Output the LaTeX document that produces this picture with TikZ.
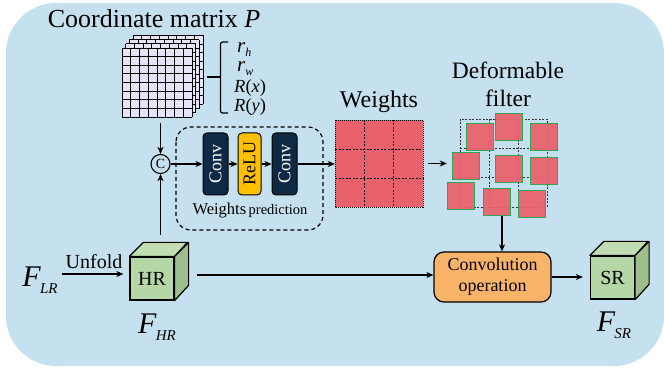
\documentclass[tikz,border=0pt]{standalone}
\usepackage{fontspec}
\setmainfont{Liberation Serif}
\usetikzlibrary{arrows.meta}
\definecolor{bgblue}{RGB}{197,224,238}
\definecolor{gridfill}{RGB}{232,228,247}
\definecolor{navy}{RGB}{14,41,68}
\definecolor{gold}{RGB}{255,192,0}
\definecolor{wred}{RGB}{233,97,106}
\definecolor{sqgreen}{RGB}{50,165,85}
\definecolor{orangebox}{RGB}{250,180,106}
\definecolor{cubefront}{RGB}{181,215,166}
\definecolor{cubetop}{RGB}{192,222,178}
\definecolor{cubeside}{RGB}{155,190,140}
\newcommand{\Fsub}[1]{{\fontsize{30}{30}\selectfont\textit{F}}\kern-1pt\raisebox{-7pt}{\fontsize{15}{16}\selectfont\textit{#1}}}
\newcommand{\rsub}[1]{{\fontsize{21}{21}\selectfont\textit{r}}\raisebox{-4pt}[0pt][0pt]{\fontsize{12}{12}\selectfont\textit{#1}}}
\tikzset{
  arr/.style={-{Stealth[length=7pt,width=6pt,inset=2pt]}, line width=1.2pt},
  convbox/.style={draw=black, line width=1pt, fill=navy, rounded corners=4pt, rotate=90,
    minimum width=62pt, minimum height=25pt, inner sep=0pt, text=white,
    font=\fontsize{18}{18}\selectfont},
  relubox/.style={convbox, fill=gold, text=black, minimum height=23pt},
  cubeface/.style={draw=black, line width=1.2pt, fill=cubefront, minimum width=44pt,
    minimum height=43pt, inner sep=0pt, font=\fontsize{20}{20}\selectfont},
  cubelines/.style={draw=black, line width=1.2pt, line join=round},
  sq/.style={fill=wred, fill opacity=0.93, draw=sqgreen, line width=1pt, draw opacity=1},
  ghost/.style={inner sep=0pt, draw=none},
}
\begin{document}
\begin{tikzpicture}[x=1pt,y=-1pt]
\useasboundingbox (0,0) rectangle (664,371);
\fill[bgblue, rounded corners=50pt] (6,3) rectangle (664,366);

% title
\node[font=\fontsize{26}{28}\selectfont] (title) at (154,19) {Coordinate matrix \textit{P}};

% coordinate matrix stack
\foreach \k in {3,2,1,0} {
  \begin{scope}[shift={(3.7*\k,-4.2*\k)}]
    \fill[gridfill] (122,48) rectangle (192,117);
    \foreach \i in {0,...,8} {
      \draw[line width=0.95pt] (122+8.75*\i,48) -- (122+8.75*\i,117);
      \draw[line width=0.95pt] (122,48+8.625*\i) -- (192,48+8.625*\i);
    }
  \end{scope}
}
\node[ghost, minimum width=81pt, minimum height=81pt] (mat) at (162.5,77) {};

% brace
\draw[line width=1.2pt, rounded corners=2pt] (228,42) -- (220.5,42) -- (220.5,113) -- (228,113);
\draw[line width=1.2pt] (207,77) -- (220.5,77);
\node[anchor=west, inner sep=0pt] (rh) at (237,48) {\rsub{h}};
\node[anchor=west, inner sep=0pt] (rw) at (237,67) {\rsub{w}};
\node[anchor=west, inner sep=0pt, font=\fontsize{18.5}{19}\selectfont] (rx) at (234,88) {\textit{R}(\textit{x})};
\node[anchor=west, inner sep=0pt, font=\fontsize{18.5}{19}\selectfont] (ry) at (234,107) {\textit{R}(\textit{y})};

% concat circle
\node[circle, draw=black, line width=1.1pt, minimum size=19pt, inner sep=0pt,
  font=\fontsize{14}{14}\selectfont] (cat) at (160.5,164) {C};

% weights prediction
\draw[line width=1.2pt, dash pattern=on 4pt off 3pt, rounded corners=15pt] (176,127) rectangle (323,230);
\node[convbox] (c1) at (215.5,164) {Conv};
\node[relubox] (relu) at (249.5,164) {ReLU};
\node[convbox] (c2) at (284.5,164) {Conv};
\node (wplabel) at (250,211) {{\fontsize{16.5}{18}\selectfont Weights} {\fontsize{14.5}{16}\selectfont prediction}};

% weights grid
\node[font=\fontsize{24}{26}\selectfont] (wtitle) at (379,102) {Weights};
\fill[wred] (335,120) rectangle (423,207);
\foreach \i in {1,2} {
  \draw[line width=0.8pt, dash pattern=on 2pt off 1.5pt] (335+29.33*\i,120) -- (335+29.33*\i,207);
  \draw[line width=0.8pt, dash pattern=on 2pt off 1.5pt] (335,120+29*\i) -- (423,120+29*\i);
}
\draw[line width=0.6pt, dash pattern=on 1pt off 1pt] (335,120) rectangle (423,207);
\node[ghost, minimum width=88pt, minimum height=87pt] (wgt) at (379,163.5) {};

% deformable filter
\node[font=\fontsize{23.5}{28}\selectfont, align=center] (dtitle) at (508,84) {Deformable\\filter};
\draw[line width=0.8pt, dash pattern=on 2pt off 1.5pt, black!80] (460,119) rectangle (547,207);
\foreach \i in {1,2} {
  \draw[line width=0.8pt, dash pattern=on 2pt off 1.5pt, black!80] (460+29*\i,119) -- (460+29*\i,207);
  \draw[line width=0.8pt, dash pattern=on 2pt off 1.5pt, black!80] (460,119+29.33*\i) -- (547,119+29.33*\i);
}
\foreach \x/\y in {466/124, 495/114, 530/124, 452/153, 495/156, 530/158, 447/183, 483/189, 518/191} {
  \draw[sq] (\x,\y) rectangle ++(27,27);
}
\node[ghost, minimum width=110pt, minimum height=104pt] (def) at (502,166) {};

% convolution operation
\node[draw=black, line width=1.2pt, fill=orangebox, rounded corners=10pt, minimum width=117pt,
  minimum height=50pt, align=center, font=\fontsize{18}{21}\selectfont] (cop) at (492.5,277) {Convolution\\operation};

% HR cube
\node[cubeface] (hr) at (152,278.5) {HR};
\draw[cubelines, fill=cubetop] (hr.north west) -- ++(14,-14) -- ++(44,0) -- (hr.north east) -- cycle;
\draw[cubelines, fill=cubeside] (hr.north east) -- ++(14,-14) -- ++(0,43) -- (hr.south east) -- cycle;
\node (fhr) at (157,327) {\Fsub{HR}};

% SR cube
\node[cubeface] (sr) at (612.5,277.5) {SR};
\draw[cubelines, fill=cubetop] (sr.north west) -- ++(14,-14) -- ++(44,0) -- (sr.north east) -- cycle;
\draw[cubelines, fill=cubeside] (sr.north east) -- ++(14,-14) -- ++(0,43) -- (sr.south east) -- cycle;
\node (fsr) at (614,325) {\Fsub{SR}};

% F_LR and unfold
\node (flr) at (40,280) {\Fsub{LR}};
\coordinate (unf) at (62,274);
\draw[arr, shorten >=6pt] (unf) -- (hr.west |- unf);
\node[font=\fontsize{20}{20}\selectfont] (unflabel) at (94,262) {Unfold};

% connectors
\draw[arr] (cat.north |- mat.south) ++(0,5) -- (cat.north);
\coordinate (hrtop) at (cat.south |- 0,235);
\draw[arr] (hrtop) -- (cat.south);
\draw[arr] (cat.east) -- (c1.north);
\draw[arr] (c1.south) -- (relu.north);
\draw[arr] (relu.south) -- (c2.north);
\draw[arr] (c2.south) -- (c2.south -| wgt.west);
\draw[arr] ([xshift=5pt]wgt.east) -- (wgt.east -| def.west);
\draw[arr] ([yshift=2pt]def.south) -- (def.south |- cop.north);
\coordinate (hrout) at (197,275);
\draw[arr] (hrout) -- (hrout -| cop.west);
\draw[arr, shorten >=7pt] (cop.east) -- (cop.east -| sr.west);
\end{tikzpicture}
\end{document}
